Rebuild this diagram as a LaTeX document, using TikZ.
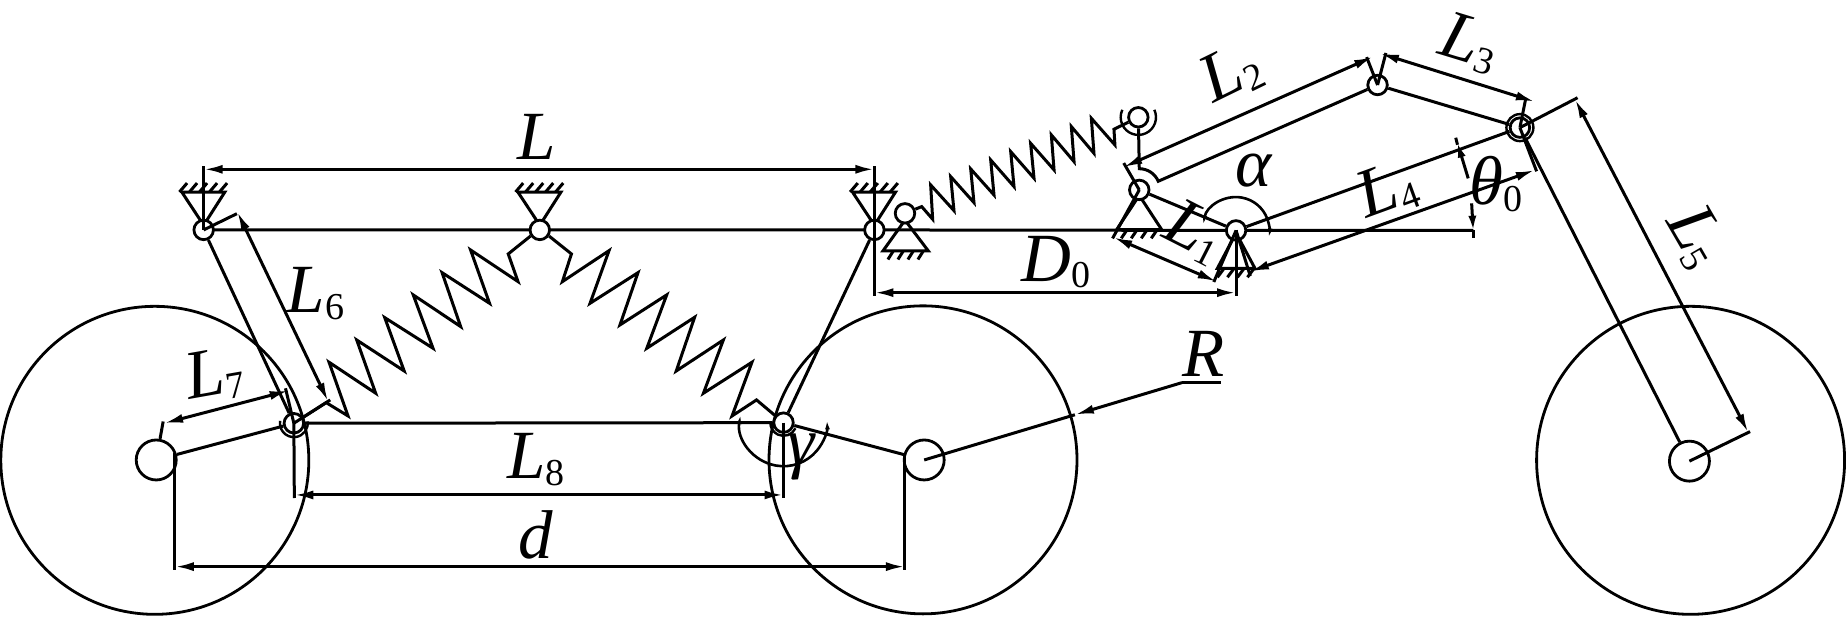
\documentclass[tikz,border=0pt]{standalone}
\usepackage{fontspec}
\setmainfont{Liberation Serif}
\usetikzlibrary{arrows.meta,calc}
\newcommand\sublab[2]{\textit{#1}\raisebox{-6.5pt}{\fontsize{38}{38}\selectfont #2}}
\tikzset{
  ln/.style={line width=3pt,line join=miter,line cap=butt},
  wheelnode/.style={circle,draw,line width=2.8pt,inner sep=0pt,minimum size=308pt},
  hubnode/.style={circle,draw,line width=2.8pt,inner sep=0pt,minimum size=40pt},
  jointnode/.style={circle,draw,line width=2.8pt,fill=white,inner sep=0pt,minimum size=19.5pt},
  ringnode/.style={circle,draw,line width=2.4pt,inner sep=0pt,minimum size=27pt},
  dimln/.style={ln,{Latex[length=19pt,width=9pt]}-{Latex[length=19pt,width=9pt]}},
  tipend/.style={ln,-{Latex[length=19pt,width=9pt]}},
  angln/.style={line width=2.6pt,{Latex[length=9pt,width=5pt]}-{Latex[length=9pt,width=5pt]}},
  lab/.style={font=\fontsize{69}{69}\selectfont,inner sep=0pt,anchor=base west},
}
\begin{document}
\begin{tikzpicture}[x=1.1773pt,y=-1.1773pt]
\useasboundingbox (0,0) rectangle (1568,524.1);
% wheels
\node[wheelnode] (WL) at (131.5,391) {};
\node[wheelnode] (WM) at (784,390.6) {};
\node[wheelnode] (WR) at (1436,391) {};
\node[hubnode] (HL) at (132.7,390.7) {};
\node[hubnode] (HM) at (785,390.7) {};
\node[hubnode] (HR) at (1435,391.7) {};
% key coordinates
\coordinate (pA) at (173,195.3);
\coordinate (pB) at (458.5,195.3);
\coordinate (pC) at (742.7,195.3);
\coordinate (pD) at (768.7,181.2);
\coordinate (pE) at (249.6,359.5);
\coordinate (pF) at (665.5,359);
\coordinate (pG) at (966.9,99.6);
\coordinate (pH) at (967.7,161.3);
\coordinate (pJ) at (1049.9,195.7);
\coordinate (pK) at (1291,108.4);
\coordinate (pM) at (1170.1,72.2);
\coordinate (lineEnd) at (1251.4,195.7);
% ground triangles
\foreach \c in {pA,pB,pC}{
  \draw[ln] ($(\c)+(-18.6,-32.2)$) -- ($(\c)+(18,-32.2)$) -- ($(\c)+(0,-4)$) -- cycle;
  \foreach \d in {-15.6,-7.1,1.4,9.9,18.4}
    \draw[ln] ($(\c)+(\d-5,-32.2)$) -- ($(\c)+(\d+1.5,-39.8)$);
}
\draw[ln] (768.7,187) -- (788.5,213.1) -- (750,213.1) -- cycle;
\foreach \d in {758.8,767.3,775.8,784.3}
  \draw[ln] (\d,213.1) -- (\d-4.6,220.4);
\draw[ln] (967.7,166) -- (986.7,195) -- (948.5,195) -- cycle;
\foreach \d in {957,965.5,974,982.5}
  \draw[ln] (\d,195.7) -- (\d-4.6,202.4);
\draw[ln] (1049.9,198) -- (1066,228) -- (1034,228) -- cycle;
\foreach \d in {1039.7,1048.2,1056.7,1065.2}
  \draw[ln] (\d,228) -- (\d-5.6,235.5);
% base line
\draw[ln] (pA) -- (pB) -- (pC) -- (pJ) -- (lineEnd);
% joints
\node[ringnode] (KO) at (pK) {};
\foreach \c/\n in {pA/A,pB/B,pC/C,pD/D,pE/E,pF/F,pG/G,pH/H,pJ/J,pK/K,pM/M}
  \node[jointnode] (\n) at (\c) {};
% bars and links
\draw[ln] (A) -- (E);
\draw[ln] (C) -- (F);
\draw[ln] (HL) -- (E);
\draw[ln] (HM) -- (F);
\draw[ln] (H) -- (J);
\draw[ln] (J) -- (K);
\draw[ln] (M) -- (K);
\draw[ln] (HR) -- (K);
% L2 bar with its curved hook
\coordinate (hookTop) at ($(pH)+(0,-18)$);
\draw[ln] (G) -- (hookTop) arc[start angle=-90,end angle=-23,radius=17.5] -- (M);
% G outer arc
\draw[line width=2.4pt] ([shift={(-25:15)}]pG) arc[start angle=-25,end angle=205,radius=15];
% outer arcs of E and F
\draw[line width=2.4pt] ([shift={(-8:11.8)}]pE) arc[start angle=-8,end angle=190,radius=11.8];
\draw[line width=2.4pt] ([shift={(25:11.2)}]pF) arc[start angle=25,end angle=180,radius=11.2];
% springs
\draw[ln] (B) -- (450,201) -- (431.7,215.7) -- (440,239.2) -- (399.7,212.3) -- (415.8,257.6) -- (375.5,231.6) -- (391.3,277.4) -- (351,250.5) -- (367.8,295.8) -- (326.8,269.8) -- (343.3,315.1) -- (303,288.8) -- (319.1,334) -- (279.5,307.7) -- (295.6,353.3) -- (277.1,342) -- (E);
\draw[ln] (B) -- (467,201) -- (485.4,215.7) -- (477.7,239.2) -- (517.3,212.9) -- (501.2,257.6) -- (541.9,231.6) -- (526.6,276) -- (566.3,250.5) -- (549.4,295.8) -- (590,269.5) -- (574.4,315.1) -- (614.4,288.8) -- (597.5,334) -- (638.7,307.7) -- (621.8,353.3) -- (642.6,339.7) -- (F);
\draw[ln] (D) -- (782.9,175.5) -- (792.2,186.2) -- (790.5,157.1) -- (810.3,178.9) -- (807.5,150) -- (827.3,172.1) -- (824.5,143.5) -- (844.3,165.6) -- (841.5,135.9) -- (861.3,158.5) -- (858.5,128.8) -- (878.3,151.4) -- (875.4,121.7) -- (895.3,144.3) -- (893,114.6) -- (912.3,137.3) -- (910,107.5) -- (929.2,130.2) -- (927,100.5) -- (947,123.1) -- (946.2,109.8) -- (G);
% extension lines and dimension coordinates
\coordinate (dLa) at (173,143.8);
\coordinate (dLb) at (742.7,143.8);
\draw[ln] (pA) -- (173,141);
\draw[ln] (pC) -- (742.7,141);
\draw[ln] (pC) -- (742.7,251);
\draw[dimln] (dLa) -- (dLb);
\coordinate (dD0a) at (742.7,248.6);
\coordinate (dD0b) at (1049.9,248.6);
\draw[ln] (pJ) -- (1049.9,251);
\draw[dimln] (dD0a) -- (dD0b);
% L6
\coordinate (d6a) at (201.5,179.8);
\coordinate (d6b) at (278.8,341.1);
\draw[ln] (pA) -- (201.2,181.5);
\draw[ln] (pE) -- (280.5,339.7);
\draw[dimln] (d6a) -- (d6b);
% L7
\coordinate (d7a) at (139.4,359.5);
\coordinate (d7b) at (245.2,331.8);
\draw[ln] (HL) -- (138.6,358);
\draw[ln] (pE) -- (242.5,329.8);
\draw[dimln] (d7a) -- (d7b);
% L8
\coordinate (d8a) at (250,420.4);
\coordinate (d8b) at (665.5,420.4);
\draw[ln] (pE) -- (250,423);
\draw[ln] (pF) -- (665.5,423);
\draw[ln] (E) -- (F);
\draw[dimln] (d8a) -- (d8b);
% d
\coordinate (dda) at (148.5,481.3);
\coordinate (ddb) at (768.7,481.3);
\draw[ln] (148.5,385) -- (148.5,484);
\draw[ln] (768.7,385) -- (768.7,484);
\draw[dimln] (dda) -- (ddb);
% L1
\coordinate (d1a) at (945.6,201.5);
\coordinate (d1b) at (1033.4,239.2);
\draw[ln] (pH) -- (945,202.5);
\draw[ln] (pJ) -- (1031,239.5);
\draw[dimln] (d1a) -- (d1b);
% L4
\coordinate (d4a) at (1061.7,230.7);
\coordinate (d4b) at (1303.7,144.4);
\draw[ln] (pJ) -- (1062,234.5);
\draw[ln] (pK) -- (1305.2,145.5);
\draw[dimln] (d4a) -- (d4b);
% L2
\coordinate (d2a) at (954.1,142.1);
\coordinate (d2b) at (1166.4,48.1);
\draw[ln] (pH) -- (954.5,138.5);
\draw[ln] (pM) -- (1160.8,48.5);
\draw[dimln] (d2a) -- (d2b);
% L3
\coordinate (d3a) at (1172.1,45.3);
\coordinate (d3b) at (1303.7,86.4);
\draw[ln] (pM) -- (1177.2,45);
\draw[ln] (pK) -- (1296.1,83);
\draw[dimln] (d3a) -- (d3b);
% L5
\coordinate (d5a) at (1337.8,84.3);
\coordinate (d5b) at (1485,367.4);
\draw[ln] (pK) -- (1340,83);
\draw[ln] (HR.center) -- (1486.5,366.6);
\draw[dimln] (d5a) -- (d5b);
% R leader
\coordinate (rA) at (1037,325);
\coordinate (rB) at (1004,325);
\coordinate (rC) at (913,352.3);
\draw[ln] (HM.center) -- (rC);
\draw[tipend] (rB) -- (rC);
\draw[ln] (rA) -- (rB);
% theta0
\draw[ln,-{Latex[length=16pt,width=8pt]}] (1247.1,151.5) -- (1237.6,120.3);
\draw[ln,-{Latex[length=16pt,width=8pt]}] (1250,172.7) -- (1251.4,196.8);
\draw[ln] (1236.5,117) -- (1238,123);
\draw[ln] (lineEnd) -- (1251.4,202);
% alpha, gamma
\draw[angln] ([shift={(190:28.3)}]pJ) arc[start angle=190,end angle=372,radius=28.3];
\draw[angln] ([shift={(190:37)}]pF) arc[start angle=190,end angle=-3,radius=37];
% labels
\node[lab] (tL) at (439,135.5) {\textit{L}};
\node[lab] (td) at (440,474.2) {\textit{d}};
\node[lab] (tR) at (1004,319.9) {\textit{R}};
\node[lab] (tD0) at (867.8,239) {\sublab{D}{0}};
\node[lab] (tL6) at (243.5,265.5) {\sublab{L}{6}};
\node[lab,rotate=10] (tL7) at (160.5,339.5) {\sublab{L}{7}};
\node[lab] (tL8) at (431,406.5) {\sublab{L}{8}};
\node[lab,rotate=26] (tL2) at (1031,88) {\sublab{L}{2}};
\node[lab,rotate=-17] (tL3) at (1220.2,45.3) {\sublab{L}{3}};
\node[lab,rotate=20] (tL4) at (1160.8,185.5) {\sublab{L}{4}};
\node[lab,rotate=-27] (tL1) at (985.2,201) {\sublab{L}{1}};
\node[lab,rotate=-60] (tL5) at (1414.3,187.7) {\sublab{L}{5}};
\node[lab] (talpha) at (1049,158.6) {\textit{α}};
\node[lab] (ttheta) at (1248,174) {\sublab{θ}{0}};
\node[lab] (tgamma) at (669,395) {\textit{γ}};
\end{tikzpicture}
\end{document}
